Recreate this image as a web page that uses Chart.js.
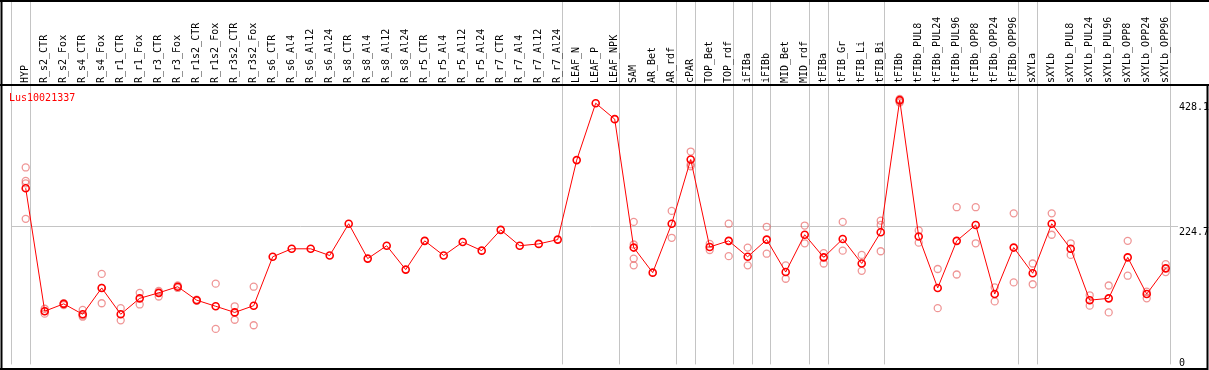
<!DOCTYPE html>
<html>
<head>
<meta charset="utf-8">
<script src="https://cdn.jsdelivr.net/npm/chart.js@4/dist/chart.umd.min.js"></script>
<style>
  body { margin: 0; background: #fff; }
  #wrap { width: 1209px; height: 370px; }
</style>
</head>
<body>
<div id="wrap"><canvas id="chart" width="1209" height="370"></canvas></div>
<script>
// Sample names along the top
const categories = [
    'HYP', 'R_s2_CTR', 'R_s2_Fox', 'R_s4_CTR', 'R_s4_Fox', 'R_r1_CTR', 'R_r1_Fox',
    'R_r3_CTR', 'R_r3_Fox', 'R_r1s2_CTR', 'R_r1s2_Fox', 'R_r3s2_CTR', 'R_r3s2_Fox',
    'R_s6_CTR', 'R_s6_Al4', 'R_s6_Al12', 'R_s6_Al24', 'R_s8_CTR', 'R_s8_Al4', 'R_s8_Al12',
    'R_s8_Al24', 'R_r5_CTR', 'R_r5_Al4', 'R_r5_Al12', 'R_r5_Al24', 'R_r7_CTR', 'R_r7_Al4',
    'R_r7_Al12', 'R_r7_Al24', 'LEAF_N', 'LEAF_P', 'LEAF_NPK', 'SAM', 'AR_Bet', 'AR_rdf',
    'cPAR', 'TOP_Bet', 'TOP_rdf', 'iFIBa', 'iFIBb', 'MID_Bet', 'MID_rdf', 'tFIBa',
    'tFIB_Gr', 'tFIB_Li', 'tFIB_Bi', 'tFIBb', 'tFIBb_PUL8', 'tFIBb_PUL24', 'tFIBb_PUL96',
    'tFIBb_OPP8', 'tFIBb_OPP24', 'tFIBb_OPP96', 'sXYLa', 'sXYLb', 'sXYLb_PUL8',
    'sXYLb_PUL24', 'sXYLb_PUL96', 'sXYLb_OPP8', 'sXYLb_OPP24', 'sXYLb_OPP96'
];

// Mean expression per sample (red line)
const meanValues = [
    288, 87, 99, 82, 125, 82, 108, 117, 127, 105, 95, 85, 96,
    176, 189, 189, 178, 230, 173, 194, 155, 202, 178, 200, 186, 220, 194, 197, 204,
    334, 427, 401,
    191, 150, 230, 335, 192, 202, 176, 204, 151, 212,
    175, 205, 165, 216, 432,
    209, 125, 202, 228, 115, 191,
    149, 230,
    189, 105, 108, 175, 115, 157
];

// Individual replicates per sample (faded circles)
const replicates = [
    [322, 300, 296, 238], [91, 87, 83], [100, 97], [89, 78, 80], [148, 125, 100],
    [92, 72], [117, 98], [120, 111], [129, 125], [106, 104], [132, 58], [95, 73], [127, 64],
    [], [], [], [], [], [], [], [], [], [], [], [], [], [], [], [],
    [], [], [],
    [233, 196, 173, 162], [], [251, 207], [348, 327, 324], [197, 187], [230, 177],
    [191, 162], [225, 181], [162, 140], [227, 198],
    [182, 165], [233, 186], [179, 153], [235, 228, 185], [434, 430, 428],
    [219, 199], [156, 92], [257, 147], [257, 198], [126, 103], [247, 134],
    [165, 131], [247, 212],
    [198, 179], [113, 96], [129, 85], [202, 145], [119, 108], [164, 151]
];

// Group boundaries (vertical lines follow these sample indices)
const groupEnds = [-1, 0, 28, 31, 34, 35, 37, 38, 39, 41, 42, 45, 52, 53, 60];

// Value axis labels
const yTicks = [0, 224.7, 428.1];
const chartTitle = 'Lus10021337';

const monoFont = { family: "'DejaVu Sans Mono', monospace", size: 10 };

const meanPoints = meanValues.map((v, i) => ({ x: i, y: v }));
const replicatePoints = [];
replicates.forEach((reps, i) => {
    reps.forEach(v => replicatePoints.push({ x: i, y: v }));
});

// keep the axes from asking for extra room around the plot
function noPadding(scale) {
    scale.paddingLeft = 0;
    scale.paddingRight = 0;
    scale.paddingTop = 0;
    scale.paddingBottom = 0;
}

// Frame and title drawn over the chart
const framePlugin = {
    id: 'frame',
    afterDraw(chart) {
        const ctx = chart.ctx;
        const area = chart.chartArea;
        ctx.save();
        ctx.strokeStyle = '#000';
        ctx.lineWidth = 2;
        ctx.beginPath();
        ctx.moveTo(0, 1); ctx.lineTo(1209, 1);
        ctx.moveTo(1.5, 0); ctx.lineTo(1.5, 370);
        ctx.moveTo(0, area.top); ctx.lineTo(1209, area.top);
        ctx.moveTo(0, 369); ctx.lineTo(1208, 369);
        ctx.moveTo(1207.5, area.top); ctx.lineTo(1207.5, 370);
        ctx.stroke();
        ctx.fillStyle = '#ff0000';
        ctx.font = "10px 'DejaVu Sans Mono', monospace";
        ctx.textBaseline = 'alphabetic';
        ctx.fillText(chartTitle, 9, 100.5);
        ctx.restore();
    }
};

const xMin = -0.774;
const xMax = 60.226;
const labelShift = 0.6;

new Chart(document.getElementById('chart').getContext('2d'), {
    type: 'line',
    data: {
        datasets: [{
            label: 'mean',
            data: meanPoints,
            borderColor: '#ff0000',
            borderWidth: 1,
            pointRadius: 3.5,
            pointBorderWidth: 1.6,
            pointBorderColor: '#ff0000',
            pointBackgroundColor: 'rgba(0,0,0,0)',
            tension: 0,
            order: 0
        }, {
            label: 'replicates',
            type: 'scatter',
            data: replicatePoints,
            showLine: false,
            pointRadius: 3.5,
            pointBorderWidth: 1.3,
            pointBorderColor: 'rgba(228,80,80,0.6)',
            pointBackgroundColor: 'rgba(0,0,0,0)',
            order: 1
        }]
    },
    options: {
        responsive: false,
        animation: false,
        layout: { padding: { left: 11, right: 0, top: 0, bottom: 3 } },
        plugins: {
            legend: { display: false },
            tooltip: { enabled: false }
        },
        scales: {
            x: {
                type: 'linear',
                position: 'top',
                weight: 0,
                min: xMin,
                max: xMax,
                afterBuildTicks: scale => {
                    scale.ticks = groupEnds.map(i => ({ value: i + 0.226 }));
                },
                afterFit: scale => { scale.height = 0; noPadding(scale); },
                ticks: { display: false },
                grid: { color: '#c4c4c4', lineWidth: 1, drawTicks: true, tickLength: 85, tickColor: '#c4c4c4' },
                border: { display: false }
            },
            names: {
                type: 'linear',
                position: 'top',
                weight: 1,
                min: xMin - labelShift,
                max: xMax - labelShift,
                afterBuildTicks: scale => {
                    scale.ticks = categories.map((c, i) => ({ value: i }));
                },
                afterFit: scale => { scale.height = 85; noPadding(scale); },
                ticks: {
                    autoSkip: false,
                    minRotation: 90,
                    maxRotation: 90,
                    padding: 2,
                    color: '#000',
                    font: monoFont,
                    callback: (value, index) => categories[index]
                },
                grid: { display: false, drawTicks: false },
                border: { display: false }
            },
            y: {
                type: 'linear',
                position: 'right',
                min: 0,
                max: 456.8,
                afterBuildTicks: scale => {
                    scale.ticks = yTicks.map(v => ({ value: v }));
                },
                afterFit: scale => { scale.width = 39; noPadding(scale); },
                ticks: {
                    align: 'start',
                    padding: 1,
                    color: '#000',
                    font: monoFont,
                    callback: value => value === 0 ? ['0', ''] : String(value)
                },
                grid: {
                    color: ctx => ctx.tick && ctx.tick.value === 224.7 ? '#c4c4c4' : 'rgba(0,0,0,0)',
                    tickColor: ctx => ctx.tick && ctx.tick.value === 224.7 ? '#c4c4c4' : 'rgba(0,0,0,0)',
                    drawTicks: true,
                    tickLength: 8
                },
                border: { display: false }
            }
        }
    },
    plugins: [framePlugin]
});
</script>
</body>
</html>
